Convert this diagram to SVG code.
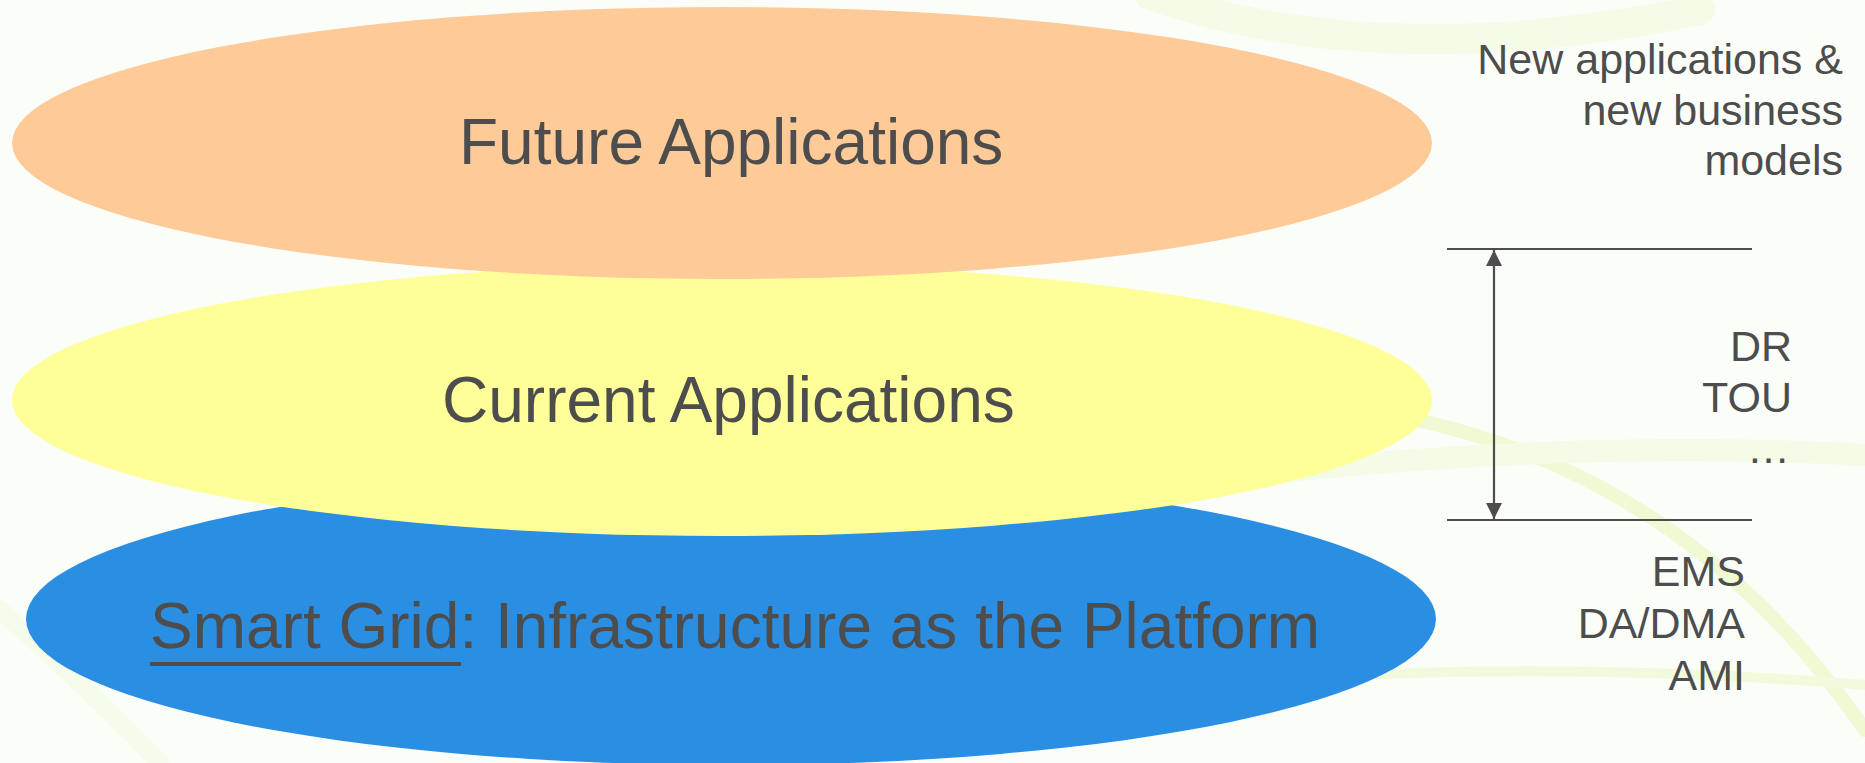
<svg xmlns="http://www.w3.org/2000/svg" width="1865" height="763" viewBox="0 0 1865 763">
  <defs>
    <style>
      .t { font-family: "Liberation Sans", Arial, sans-serif; fill: #4d4d4d; }
      .big { font-size: 64px; }
      .side { font-size: 43px; text-anchor: end; }
      .rule { stroke: #4d4d4d; stroke-width: 2.2; fill: none; }
      .swoosh { fill: none; stroke-linecap: round; }
    </style>
    <marker id="ah" viewBox="0 0 16 16" refX="16" refY="8" markerWidth="16" markerHeight="16" markerUnits="userSpaceOnUse" orient="auto-start-reverse">
      <path d="M0,0 L16,8 L0,16 Z" fill="#4d4d4d"/>
    </marker>
  </defs>

  <rect x="0" y="0" width="1865" height="763" fill="#fbfef8"/>
  <g id="background" opacity="0.7">
    <path class="swoosh" d="M1150,-5 Q1380,75 1700,10" stroke="#f1f9de" stroke-width="30"/>
    <path class="swoosh" d="M1260,400 C1520,410 1720,520 1865,730" stroke="#eaf8c4" stroke-width="14"/>
    <path class="swoosh" d="M1150,690 Q1500,655 1865,685" stroke="#eef9d2" stroke-width="10"/>
    <path class="swoosh" d="M1300,470 Q1600,440 1865,455" stroke="#f2fae0" stroke-width="22"/>
    <path class="swoosh" d="M0,610 Q80,680 160,763" stroke="#f4fbe6" stroke-width="18"/>
  </g>

  <g id="node-platform">
    <ellipse cx="731" cy="619" rx="705" ry="146" fill="#2a8fe3"/>
  </g>
  <g id="node-current">
    <ellipse cx="722" cy="400" rx="710" ry="136" fill="#ffff99"/>
  </g>
  <g id="node-future">
    <ellipse cx="722" cy="143" rx="710" ry="136" fill="#feca98"/>
  </g>

  <g id="labels-main">
    <text class="t big" x="459" y="164">Future Applications</text>
    <text class="t big" x="442" y="422">Current Applications</text>
    <text class="t big" x="150" y="648">Smart Grid: Infrastructure as the Platform</text>
    <rect x="150" y="662" width="311" height="4" fill="#4d4d4d"/>
  </g>

  <g id="connectors">
    <line class="rule" x1="1447" y1="249" x2="1752" y2="249"/>
    <line class="rule" x1="1447" y1="520" x2="1752" y2="520"/>
    <line class="rule" x1="1494" y1="250" x2="1494" y2="519" marker-start="url(#ah)" marker-end="url(#ah)"/>
  </g>

  <g id="labels-side">
    <text class="t side" x="1843" y="74">New applications &amp;</text>
    <text class="t side" x="1843" y="125">new business</text>
    <text class="t side" x="1843" y="175">models</text>
    <text class="t side" x="1792" y="361">DR</text>
    <text class="t side" x="1792" y="412">TOU</text>
    <text class="t side" x="1790" y="463">…</text>
    <text class="t side" x="1745" y="586">EMS</text>
    <text class="t side" x="1745" y="638">DA/DMA</text>
    <text class="t side" x="1745" y="690">AMI</text>
  </g>
</svg>
